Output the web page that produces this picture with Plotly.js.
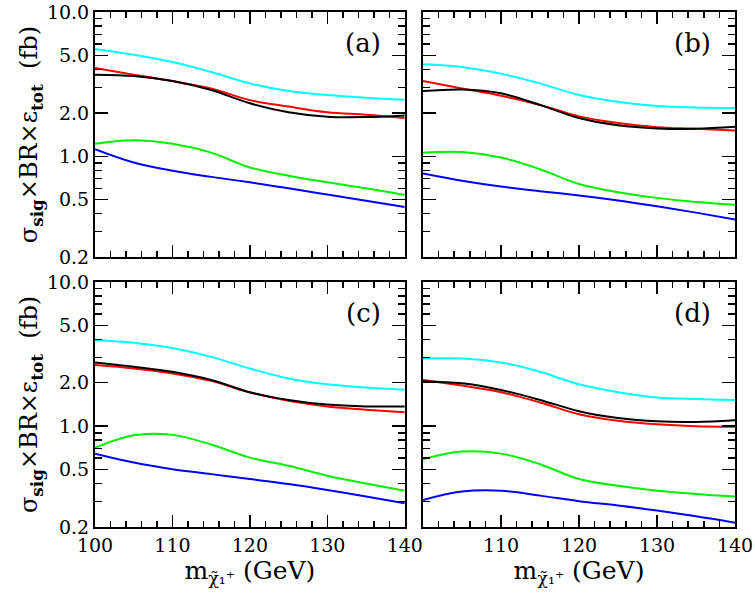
<!DOCTYPE html>
<html><head><meta charset="utf-8">
<script src="https://cdn.plot.ly/plotly-3.0.1.min.js"></script>
<style>html,body{margin:0;padding:0;background:#fff}</style>
</head><body><div id="chart" style="width:755px;height:600px"></div>
<script>
const mass = [100,105,110,115,120,125,130,135,140];

const a_cyan  = [5.55,5.05,4.5,3.84,3.2,2.83,2.66,2.55,2.47];
const a_red   = [4.1,3.68,3.32,2.95,2.45,2.21,2.02,1.94,1.84];
const a_black = [3.68,3.6,3.32,2.88,2.33,2.02,1.88,1.87,1.92];
const a_green = [1.22,1.29,1.22,1.06,0.837,0.733,0.66,0.601,0.54];
const a_blue  = [1.12,0.905,0.794,0.72,0.66,0.60,0.543,0.492,0.445];

const b_cyan  = [4.34,4.16,3.74,3.2,2.66,2.39,2.23,2.18,2.16];
const b_red   = [3.32,2.95,2.63,2.27,1.89,1.70,1.59,1.55,1.51];
const b_black = [2.83,2.90,2.73,2.27,1.84,1.64,1.56,1.55,1.60];
const b_green = [1.06,1.07,0.98,0.814,0.643,0.564,0.515,0.482,0.461];
const b_blue  = [0.76,0.677,0.617,0.573,0.535,0.494,0.45,0.407,0.365];

const c_cyan  = [3.94,3.79,3.48,3.02,2.51,2.14,1.95,1.85,1.79];
const c_red   = [2.65,2.51,2.32,2.06,1.71,1.50,1.37,1.30,1.25];
const c_black = [2.76,2.58,2.38,2.09,1.72,1.52,1.41,1.37,1.37];
const c_green = [0.708,0.865,0.87,0.746,0.605,0.531,0.453,0.401,0.357];
const c_blue  = [0.644,0.559,0.503,0.465,0.43,0.397,0.361,0.325,0.292];

const d_cyan  = [2.94,2.94,2.76,2.38,1.95,1.72,1.58,1.54,1.52];
const d_red   = [2.09,1.91,1.72,1.46,1.21,1.09,1.03,1.0,0.99];
const d_black = [2.05,1.98,1.78,1.52,1.27,1.14,1.08,1.07,1.10];
const d_green = [0.59,0.666,0.645,0.545,0.43,0.386,0.357,0.339,0.325];
const d_blue  = [0.308,0.352,0.357,0.33,0.302,0.282,0.26,0.237,0.214];

const panelLabels = ['(a)','(b)','(c)','(d)'];
const yTickVals = [0.2,0.5,1,2,5,10];
const yTickText = ['0.2','0.5','1.0','2.0','5.0','10.0'];
const yMinorVals = [0.3,0.4,0.6,0.7,0.8,0.9,3,4,6,7,8,9];
const xTickVals = [100,110,120,130,140];

const colors = {cyan:'#00ffff', red:'#ff0000', black:'#000000', green:'#00f000', blue:'#0000ff'};
const panels = [
  {cyan:a_cyan, red:a_red, black:a_black, green:a_green, blue:a_blue},
  {cyan:b_cyan, red:b_red, black:b_black, green:b_green, blue:b_blue},
  {cyan:c_cyan, red:c_red, black:c_black, green:c_green, blue:c_blue},
  {cyan:d_cyan, red:d_red, black:d_black, green:d_green, blue:d_blue}
];
const order = ['cyan','green','blue','red','black'];
const traces = [];
panels.forEach((p,i)=>{
  const s = i===0 ? '' : String(i+1);
  order.forEach(k=>{
    traces.push({x:mass, y:p[k], type:'scatter', mode:'lines', xaxis:'x'+s, yaxis:'y'+s,
      line:{color:colors[k], width:2, shape:'spline', smoothing:1}, showlegend:false, hoverinfo:'skip'});
  });
});

const F = 'DejaVu Serif, Liberation Serif, serif';
function xax(dom, anchor, labels, vals){
  return {domain:dom, anchor:anchor, range:[100,140], showline:true, linewidth:2, linecolor:'#000', mirror:'allticks',
    ticks:'inside', ticklen:12, tickwidth:1.5, tickcolor:'#000', tickvals:vals, showticklabels:labels,
    showgrid:false, zeroline:false, tickfont:{family:F, size:19, color:'#000'}, ticklabeloverflow:'allow',
    minor:{ticks:'inside', ticklen:6, tickwidth:1.5, tickcolor:'#000', dtick:2, tick0:100, showgrid:false}};
}
function yax(dom, anchor, labels){
  return {domain:dom, anchor:anchor, type:'log', range:[Math.log10(0.2),1], showline:true, linewidth:2, linecolor:'#000',
    mirror:'allticks', ticks:'inside', ticklen:13, tickwidth:1.5, tickcolor:'#000', tickvals:yTickVals, ticktext:yTickText,
    showticklabels:labels, showgrid:false, zeroline:false, tickfont:{family:F, size:19, color:'#000'}, ticklabeloverflow:'allow',
    minor:{ticks:'inside', ticklen:7, tickwidth:1.5, tickcolor:'#000', tickvals:yMinorVals, showgrid:false}};
}
const ytitle = {text:'σ<sub><b>sig</b></sub>×BR×ε<sub><b>tot</b></sub>  (fb)', font:{family:F, size:24, color:'#000'}, standoff:2};
const xtitle = {text:'m<sub>χ̃₁⁺</sub> (GeV)', font:{family:F, size:25, color:'#000'}, standoff:2};

const xL=[0,0.484], xR=[0.5125,1], yT=[0.524,1], yB=[0,0.476];
const layout = {
  width:755, height:600, margin:{l:95,r:20,t:12,b:73}, paper_bgcolor:'#fff', plot_bgcolor:'#fff',
  font:{family:F, color:'#000'},
  xaxis: xax(xL,'y',false,xTickVals),
  yaxis: Object.assign(yax(yT,'x',true),{title:ytitle}),
  xaxis2: xax(xR,'y2',false,xTickVals),
  yaxis2: yax(yT,'x2',false),
  xaxis3: Object.assign(xax(xL,'y3',true,xTickVals),{title:xtitle}),
  yaxis3: Object.assign(yax(yB,'x3',true),{title:ytitle}),
  xaxis4: Object.assign(xax(xR,'y4',true,[110,120,130,140]),{title:xtitle}),
  yaxis4: yax(yB,'x4',false),
  annotations: panelLabels.map((t,i)=>{
    const s = i===0 ? '' : String(i+1);
    return {text:t, xref:'x'+s+' domain', yref:'y'+s+' domain', x:0.93, y:0.875, xanchor:'right', yanchor:'middle',
      showarrow:false, font:{family:F, size:26, color:'#000'}};
  })
};
Plotly.newPlot('chart', traces, layout, {displayModeBar:false, staticPlot:true});
</script></body></html>
